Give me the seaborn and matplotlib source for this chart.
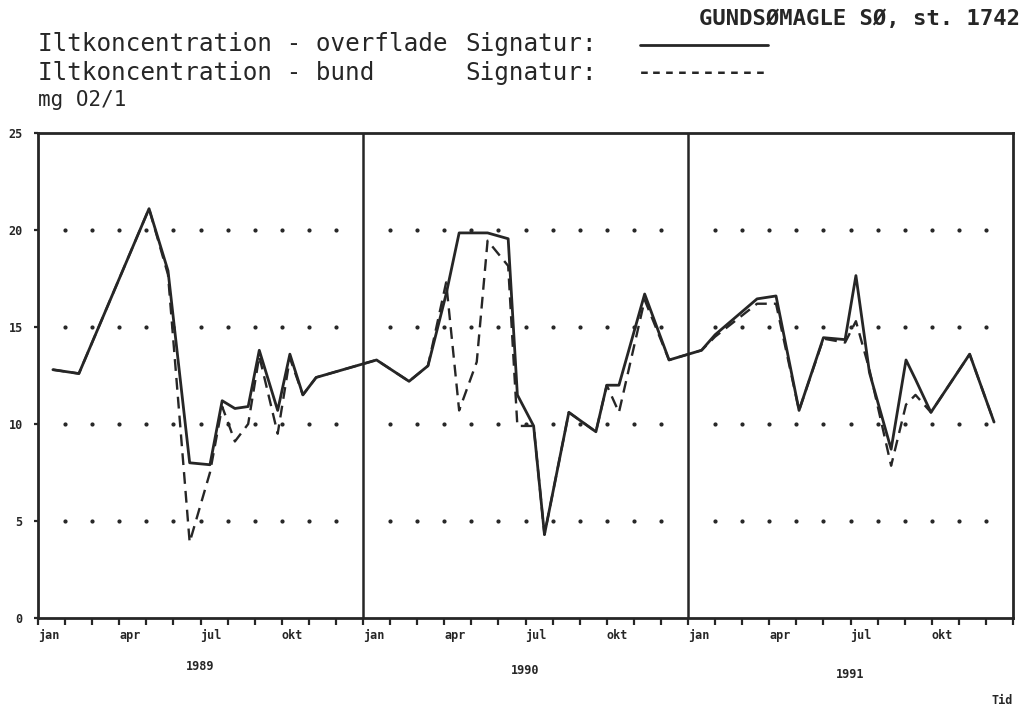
import matplotlib
matplotlib.use("Agg")
import matplotlib.pyplot as plt
import matplotlib.transforms as mtransforms
from matplotlib.lines import Line2D
import seaborn as sns
import pandas as pd

# ---- data (x = months since 1 Jan 1989) ----
months = [0.55, 1.51, 4.1, 4.8, 5.6, 6.35, 6.8, 7.27, 7.76, 8.17, 8.85, 9.3, 9.78, 10.27,
          12.5, 13.7, 14.4, 15.07, 15.55, 16.2, 16.6, 17.36, 17.7, 18.3, 18.7, 19.6, 20.6,
          21.0, 21.45, 22.4, 23.3, 24.5, 25.0, 26.55, 27.25, 28.1, 29.0, 29.8, 30.2, 30.7,
          31.5, 32.05, 32.4, 32.97, 34.4, 35.3]
surface = [12.8, 12.6, 21.1, 17.9, 8.0, 7.9, 11.2, 10.8, 10.9, 13.8, 10.7, 13.6, 11.5, 12.4,
           13.3, 12.2, 13.0, 16.7, 19.85, 19.85, 19.85, 19.55, 11.5, 9.9, 4.3, 10.6, 9.6,
           12.0, 12.0, 16.7, 13.3, 13.8, 14.6, 16.45, 16.6, 10.7, 14.45, 14.35, 17.65, 12.65,
           8.7, 13.3, 12.3, 10.6, 13.6, 10.1]
bottom = [12.8, 12.6, 21.1, 17.7, 3.9, 7.5, 10.9, 9.1, 10.0, 13.5, 9.5, 13.4, 11.5, 12.4,
          13.3, 12.2, 13.0, 17.3, 10.7, 13.2, 19.45, 18.15, 9.9, 9.9, 4.3, 10.6, 9.6,
          12.0, 10.6, 16.4, 13.3, 13.8, 14.5, 16.2, 16.2, 10.7, 14.4, 14.2, 15.3, 12.8,
          7.85, 11.0, 11.5, 10.6, 13.6, 10.1]
years = ["1989", "1990", "1991"]
month_labels = ["jan", "", "", "apr", "", "", "jul", "", "", "okt", "", ""]
y_ticks = [0, 5, 10, 15, 20, 25]

df = pd.DataFrame({"month": months, "overflade": surface, "bund": bottom})

sns.set_style("white")
MONO = "DejaVu Sans Mono"
INK = "#262626"

fig = plt.figure(figsize=(10.26, 7.06), dpi=100)
W, H = 1026, 706
ax = fig.add_axes([38 / W, 1 - 618 / H, (1013 - 38) / W, (618 - 133) / H])

# dotted horizontal guides at month boundaries
grid_x = [m for m in range(1, 36) if m % 12 != 0]
for gy in [5, 10, 15, 20]:
    ax.plot(grid_x, [gy] * len(grid_x), ls="none", marker="o", ms=2.0, color=INK, zorder=1)

sns.lineplot(data=df, x="month", y="overflade", ax=ax, color=INK, lw=2.0,
             sort=False, legend=False, zorder=3)
sns.lineplot(data=df, x="month", y="bund", ax=ax, color=INK, lw=1.7,
             sort=False, legend=False, zorder=2, dashes=False)
ax.lines[-1].set_linestyle((0, (5, 3)))

# year separators
for xb in [12, 24]:
    ax.axvline(xb, color=INK, lw=1.8, zorder=4)

ax.set_xlim(0, 36)
ax.set_ylim(0, 25)
for s in ax.spines.values():
    s.set_color(INK)
    s.set_linewidth(2.0)

ax.set_xticks(range(0, 37))
ax.set_xticklabels([month_labels[m % 12] if m < 36 else "" for m in range(0, 37)],
                   ha="left", fontsize=8.5, fontweight="bold", family=MONO, color=INK)
offset = mtransforms.ScaledTranslation(-6 / 100, 0, fig.dpi_scale_trans)
for lbl in ax.get_xticklabels():
    lbl.set_transform(lbl.get_transform() + offset)
ax.set_yticks(y_ticks)
ax.set_yticklabels([str(v) for v in y_ticks], fontsize=8.5, fontweight="bold",
                   family=MONO, color=INK)
ax.tick_params(axis="x", bottom=True, direction="out", length=5, width=1.6, color=INK, pad=3)
ax.tick_params(axis="y", left=True, direction="out", length=3, width=1.6, color=INK, pad=8)
ax.set_xlabel("")
ax.set_ylabel("")

blend = mtransforms.blended_transform_factory(ax.transData, ax.transAxes)
for i, yr in enumerate(years):
    ax.text(12 * i + 6, -0.10 - 0.008 * i, yr, transform=blend, ha="center", va="center",
            fontsize=8.5, fontweight="bold", family=MONO, color=INK)

# header texts
fig.text(1020 / W, 1 - 19 / H, "GUNDSØMAGLE SØ, st. 1742", ha="right", va="center",
         fontsize=16, fontweight="bold", family=MONO, color=INK)
fig.text(38 / W, 1 - 44 / H, "Iltkoncentration - overflade", ha="left", va="center",
         fontsize=17.5, family=MONO, color=INK)
fig.text(38 / W, 1 - 73 / H, "Iltkoncentration - bund", ha="left", va="center",
         fontsize=17.5, family=MONO, color=INK)
fig.text(38 / W, 1 - 100 / H, "mg O2/1", ha="left", va="center",
         fontsize=15, family=MONO, color=INK)
fig.text(465 / W, 1 - 44 / H, "Signatur:", ha="left", va="center",
         fontsize=17.5, family=MONO, color=INK)
fig.text(465 / W, 1 - 73 / H, "Signatur:", ha="left", va="center",
         fontsize=17.5, family=MONO, color=INK)
fig.add_artist(Line2D([640 / W, 768 / W], [1 - 45 / H, 1 - 45 / H],
                      transform=fig.transFigure, color=INK, lw=2.0))
fig.text(638 / W, 1 - 73 / H, "----------", ha="left", va="center",
         fontsize=15.5, fontweight="bold", family=MONO, color=INK)
fig.text(1013 / W, 1 - 700 / H, "Tid", ha="right", va="center",
         fontsize=8.5, fontweight="bold", family=MONO, color=INK)

fig.savefig("out.png", dpi=100, facecolor="white")
